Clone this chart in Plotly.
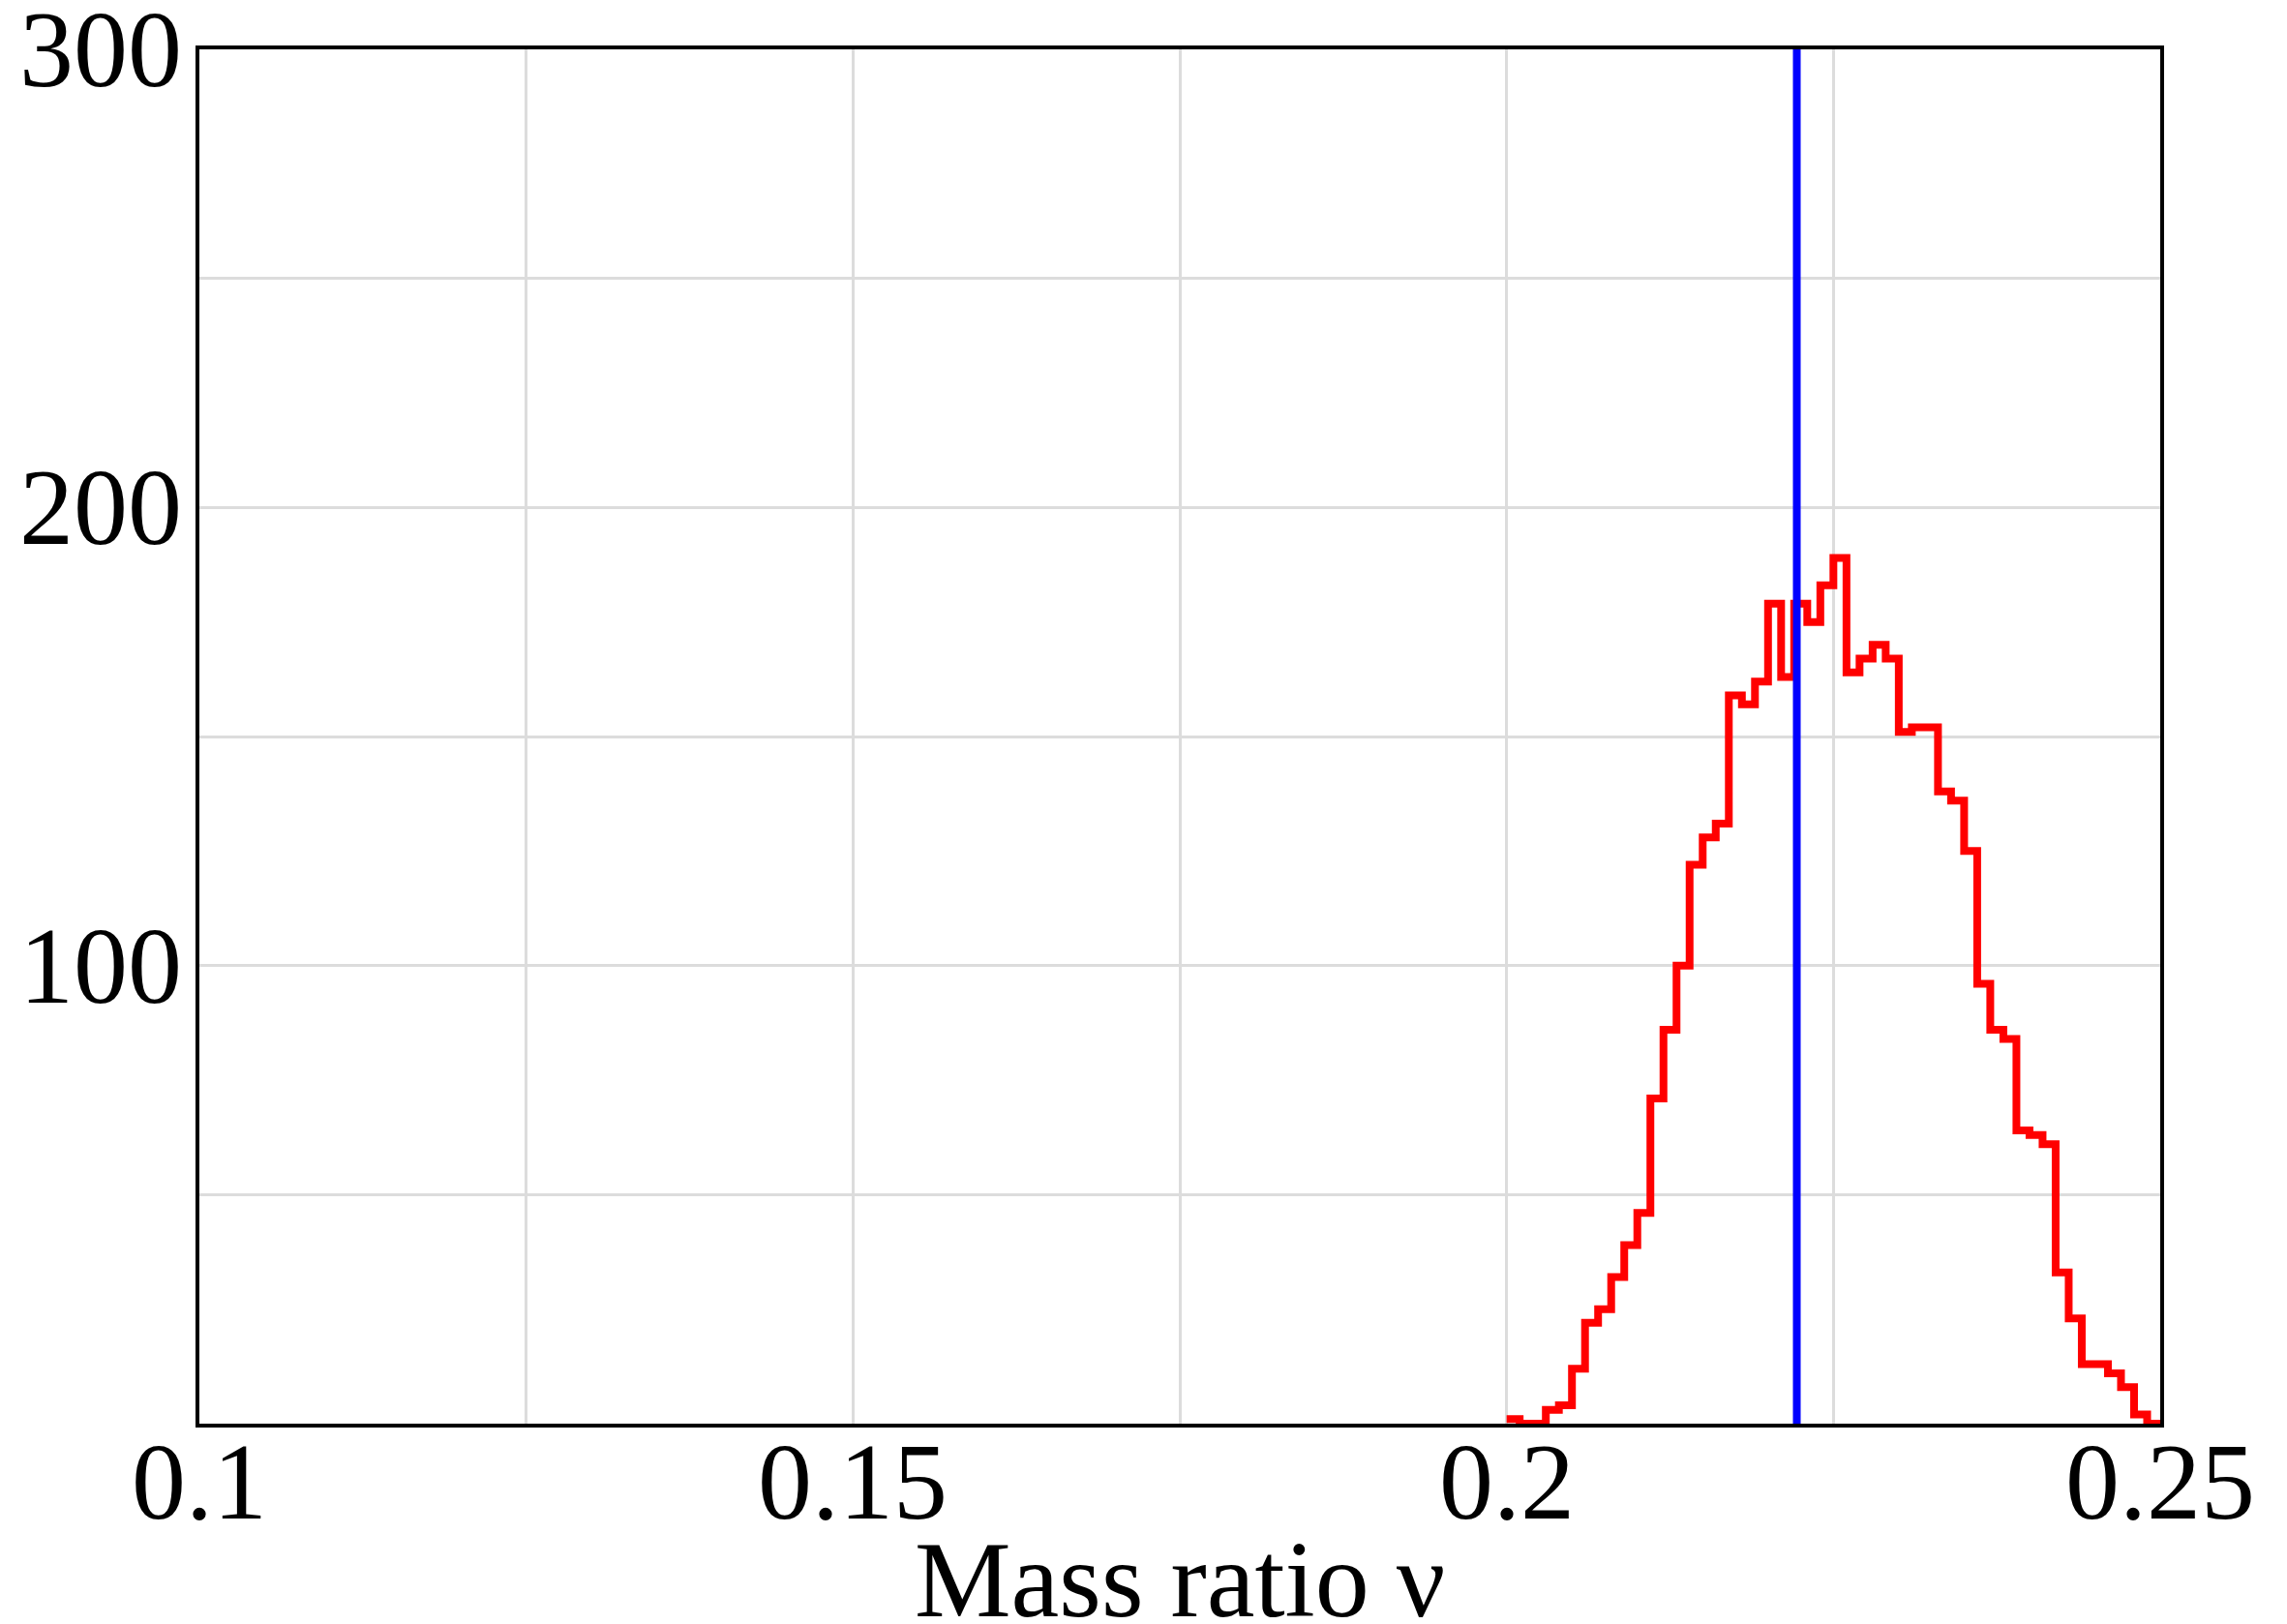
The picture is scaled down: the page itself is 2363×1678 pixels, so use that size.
import numpy as np
import plotly.graph_objects as go

# Histogram of the sampled mass ratio (bin width 0.001, starting at 0.200)
bin_start = 0.200
bin_width = 0.001
counts = [1, 0, 0, 3, 4, 12, 22, 25, 32, 39,
          46, 71, 86, 100, 122, 128, 131, 159, 157, 162,
          179, 163, 179, 175, 183, 189, 164, 167, 170, 167,
          151, 152, 152, 138, 136, 125, 96, 86, 84, 64,
          63, 61, 33, 23, 13, 13, 11, 8, 2, 0]

# Reference (true) mass ratio marked by the vertical line
nu_true = 0.2222

# Gridlines at every tick value; labels only at the major ones
x_gridvals = [0.1, 0.125, 0.15, 0.175, 0.2, 0.225, 0.25]
y_gridvals = [0, 50, 100, 150, 200, 250, 300]
x_labelvals = [0.1, 0.15, 0.2, 0.25]
x_labeltext = ["0.1", "0.15", "0.2", "0.25"]
y_labelvals = [100, 200, 300]
y_labeltext = ["100", "200", "300"]
x_title = "Mass ratio ν"

edges = np.round(bin_start + bin_width * np.arange(len(counts) + 1), 6)
step_y = counts + [counts[-1]]

FONT = "Liberation Serif, Times New Roman, serif"
LABEL_FONT = dict(family=FONT, size=112, color="black")

fig = go.Figure()
fig.add_trace(go.Scatter(
    x=edges, y=step_y, mode="lines", line_shape="hv",
    line=dict(color="#ff0000", width=8), showlegend=False, hoverinfo="skip",
))
fig.add_trace(go.Scatter(
    x=[nu_true, nu_true], y=[0, 300], mode="lines",
    line=dict(color="#0000ff", width=8), showlegend=False, hoverinfo="skip",
))

axis_common = dict(
    showgrid=True, gridcolor="#dcdcdc", gridwidth=3,
    showline=True, linecolor="black", linewidth=4, mirror=True,
    ticks="", zeroline=False, showticklabels=False,
    tickmode="array", automargin=False,
)

annotations = []
# x tick labels, centred on their tick just below the frame
for v, t in zip(x_labelvals, x_labeltext):
    annotations.append(dict(
        x=v, xref="x", y=0, yref="paper", text=t, showarrow=False,
        xanchor="center", yanchor="middle", yshift=-60, font=LABEL_FONT,
    ))
# y tick labels, right-aligned left of the frame
for v, t in zip(y_labelvals, y_labeltext):
    annotations.append(dict(
        x=0, xref="paper", y=v, yref="y", text=t, showarrow=False,
        xanchor="right", yanchor="middle", xshift=-16, font=LABEL_FONT,
    ))
# x axis title
annotations.append(dict(
    x=0.5, xref="paper", y=0, yref="paper", text=x_title, showarrow=False,
    xanchor="center", yanchor="middle", yshift=-161, font=LABEL_FONT,
))

fig.update_layout(
    width=2363, height=1678,
    margin=dict(l=206, r=131, t=51, b=207, autoexpand=False),
    paper_bgcolor="white", plot_bgcolor="white",
    font=dict(family=FONT, color="black"),
    xaxis=dict(range=[0.1, 0.25], tickvals=x_gridvals, **axis_common),
    yaxis=dict(range=[0, 300], tickvals=y_gridvals, **axis_common),
    annotations=annotations,
)

fig.write_html("out.html")
